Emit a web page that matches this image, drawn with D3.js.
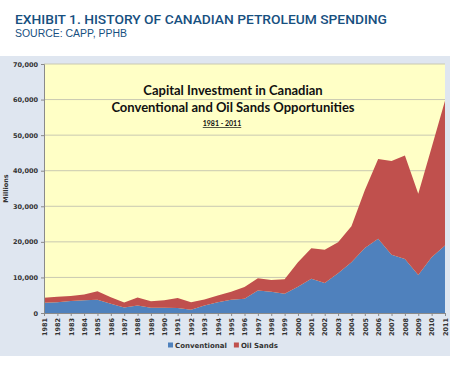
<!DOCTYPE html>
<html>
<head>
<meta charset="utf-8">
<script src="https://cdn.jsdelivr.net/npm/d3@7"></script>
<style>
  body { margin: 0; background: #fff; }
  svg { display: block; }
</style>
</head>
<body>
<div id="chart"></div>
<script>
// data, millions of dollars
const years = d3.range(1981, 2012);
const conventional = [2900, 3000, 3400, 3600, 3700, 2600, 1550, 2100, 1450, 1450,
  1400, 900, 2100, 3000, 3700, 4000, 6300, 6000, 5400, 7400,
  9600, 8400, 11200, 14300, 18300, 20900, 16400, 15200, 10700, 15700, 19000];
const oilSands = [1400, 1550, 1400, 1600, 2400, 1850, 1400, 2250, 1850, 2150,
  2800, 2100, 1700, 1900, 2300, 3300, 3500, 3300, 4100, 6900,
  8600, 9400, 8700, 10100, 16200, 22400, 26300, 29100, 22800, 30800, 40700];
const yTicks = [0, 10000, 20000, 30000, 40000, 50000, 60000, 70000];
const seriesNames = ["Conventional", "Oil Sands"];
const colors = ["#4f81bd", "#c0504d"];

const W = 450, H = 374;
const svg = d3.select("#chart").append("svg")
  .attr("width", W).attr("height", H);

// header
svg.append("text")
  .attr("x", 15).attr("y", 24)
  .attr("font-family", "Roboto, Liberation Sans, Arial, sans-serif")
  .attr("font-size", 13.5).attr("font-weight", 500)
  .attr("fill", "#17507f")
  .attr("textLength", 372).attr("lengthAdjust", "spacingAndGlyphs")
  .text("EXHIBIT 1. HISTORY OF CANADIAN PETROLEUM SPENDING");
svg.append("text")
  .attr("x", 15).attr("y", 37)
  .attr("font-family", "Liberation Sans, Arial, sans-serif")
  .attr("font-size", 10)
  .attr("fill", "#17507f")
  .attr("textLength", 112).attr("lengthAdjust", "spacingAndGlyphs")
  .text("SOURCE: CAPP, PPHB");

// outer panel
svg.append("rect")
  .attr("x", 0).attr("y", 56).attr("width", W).attr("height", 300)
  .attr("fill", "#dfe6f0");

const margin = { left: 44, right: 5, top: 64, bottom: 61 };
const x = d3.scaleLinear().domain([1981, 2011]).range([margin.left, W - margin.right]);
const y = d3.scaleLinear().domain([0, 70000]).range([H - margin.bottom, margin.top]);

// plot area
svg.append("rect")
  .attr("x", x(1981)).attr("y", y(70000))
  .attr("width", x(2011) - x(1981)).attr("height", y(0) - y(70000))
  .attr("fill", "#ffffc6");

// gridlines
svg.append("g")
  .selectAll("line")
  .data(yTicks.slice(1))
  .join("line")
    .attr("x1", x(1981)).attr("x2", x(2011))
    .attr("y1", d => y(d)).attr("y2", d => y(d))
    .attr("stroke", "#c9c9b2").attr("stroke-width", 1);

// stacked areas
const table = years.map((yr, i) => ({ year: yr, Conventional: conventional[i], "Oil Sands": oilSands[i] }));
const stacked = d3.stack().keys(seriesNames)(table);
const area = d3.area()
  .x(d => x(d.data.year))
  .y0(d => y(d[0]))
  .y1(d => y(d[1]));

svg.append("g")
  .selectAll("path")
  .data(stacked)
  .join("path")
    .attr("d", area)
    .attr("fill", (d, i) => colors[i]);

// axes
const yAxis = d3.axisLeft(y).tickValues(yTicks).tickSize(3).tickFormat(d3.format(","));
const gy = svg.append("g").attr("transform", `translate(${x(1981)},0)`).call(yAxis);
gy.select(".domain").attr("stroke", "#8a8a8a");
gy.selectAll(".tick line").attr("stroke", "#8a8a8a");
gy.selectAll("text")
  .attr("font-family", "DejaVu Sans, sans-serif")
  .attr("font-size", 6.5).attr("font-weight", "bold")
  .attr("fill", "#333").attr("x", -6);

const xAxis = d3.axisBottom(x).tickValues(years).tickSize(3).tickFormat(d3.format("d"));
const gx = svg.append("g").attr("transform", `translate(0,${y(0)})`).call(xAxis);
gx.select(".domain").attr("stroke", "#8a8a8a");
gx.selectAll(".tick line").attr("stroke", "#8a8a8a");
gx.selectAll("text")
  .attr("font-family", "DejaVu Sans, sans-serif")
  .attr("font-size", 6.5).attr("font-weight", "bold")
  .attr("fill", "#333")
  .attr("transform", "rotate(-90)")
  .attr("text-anchor", "end")
  .attr("x", -5).attr("y", 0).attr("dy", "0.35em");

// y axis title
svg.append("text")
  .attr("transform", `translate(8,${(y(0) + y(70000)) / 2}) rotate(-90)`)
  .attr("text-anchor", "middle")
  .attr("font-family", "DejaVu Sans, sans-serif")
  .attr("font-size", 6.5).attr("font-weight", "bold")
  .attr("fill", "#333")
  .text("Millions");

// chart title inside plot
const tg = svg.append("g")
  .attr("font-family", "Lato, Open Sans, sans-serif")
  .attr("font-weight", "bold")
  .attr("fill", "#111")
  .attr("text-anchor", "middle");
tg.append("text").attr("x", 233).attr("y", 95).attr("font-size", 13)
  .text("Capital Investment in Canadian");
tg.append("text").attr("x", 233).attr("y", 112).attr("font-size", 13)
  .text("Conventional and Oil Sands Opportunities");
tg.append("text").attr("x", 222).attr("y", 126).attr("font-size", 7)
  .attr("text-decoration", "underline")
  .text("1981 - 2011");

// legend
const legend = svg.append("g").attr("transform", "translate(168,346)");
let lx = 0;
seriesNames.forEach((name, i) => {
  legend.append("rect").attr("x", lx).attr("y", -3.5).attr("width", 5).attr("height", 5)
    .attr("fill", colors[i]);
  const t = legend.append("text").attr("x", lx + 7).attr("y", 0).attr("dy", "0.3em")
    .attr("font-family", "DejaVu Sans, sans-serif")
    .attr("font-size", 7).attr("font-weight", "bold").attr("fill", "#333")
    .text(name);
  lx += 7 + t.node().getComputedTextLength() + 7;
});
</script>
</body>
</html>
